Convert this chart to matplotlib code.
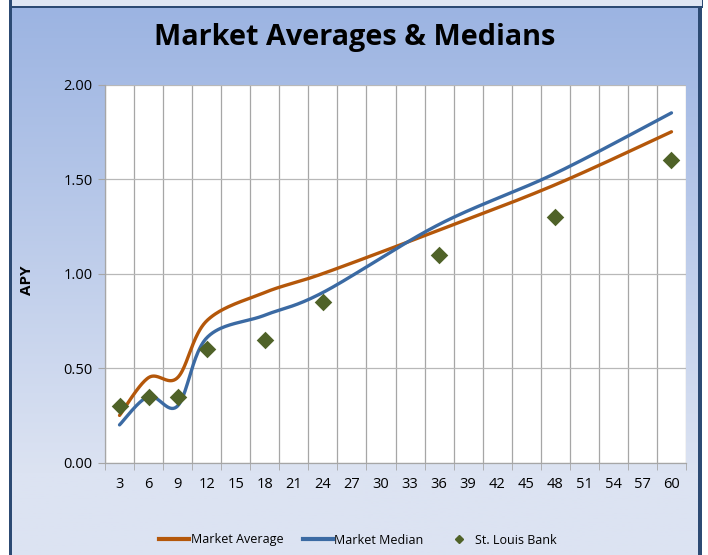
import numpy as np
import matplotlib
matplotlib.use("Agg")
import matplotlib.pyplot as plt
from matplotlib.patches import Rectangle
from matplotlib.lines import Line2D

# ---- data ----
categories = ["3", "6", "9", "12", "15", "18", "21", "24", "27", "30",
              "33", "36", "39", "42", "45", "48", "51", "54", "57", "60"]
data_months = ["3", "6", "9", "12", "18", "24", "36", "48", "60"]
market_average = [0.25, 0.45, 0.45, 0.75, 0.90, 1.00, 1.23, 1.47, 1.75]
market_median = [0.20, 0.35, 0.30, 0.66, 0.78, 0.90, 1.26, 1.53, 1.85]
st_louis_bank = [0.30, 0.35, 0.35, 0.60, 0.65, 0.85, 1.10, 1.30, 1.60]
y_ticks = [0.0, 0.5, 1.0, 1.5, 2.0]

W, H = 708, 555
fig = plt.figure(figsize=(W / 100, H / 100), dpi=100)

# ---- background (pixel coordinates) ----
bg = fig.add_axes([0, 0, 1, 1])
bg.set_xlim(0, W)
bg.set_ylim(H, 0)
bg.axis("off")
top_c = np.array([0x9c, 0xb4, 0xe2]) / 255
bot_c = np.array([0xdc, 0xe3, 0xf2]) / 255
t = np.linspace(0, 1, 256)
t = np.clip(t / 0.85, 0, 1)
grad = top_c[None, :] * (1 - t[:, None]) + bot_c[None, :] * t[:, None]
bg.imshow(grad[:, None, :], extent=[12, 698, H, 8], aspect="auto", zorder=0)
bg.add_patch(Rectangle((9, 0), 694, 6, facecolor="#dfe6f3", edgecolor="none", zorder=1))
bg.add_patch(Rectangle((9, 5.5), 694, 2.5, facecolor="#2c4a73", edgecolor="none", zorder=2))
bg.add_patch(Rectangle((701.5, 0), 1.5, 6, facecolor="#2c4a73", edgecolor="none", zorder=2))
bg.add_patch(Rectangle((9, 0), 3, H, facecolor="#2c4a73", edgecolor="none", zorder=2))
bg.add_patch(Rectangle((698, 6), 4, H, facecolor="#2c4a73", edgecolor="none", zorder=2))

fig.text(355 / W, 1 - 38 / H, "Market Averages & Medians", ha="center", va="center",
         fontsize=20.8, fontweight="bold", family="Open Sans", color="black")

# ---- plot ----
ax = fig.add_axes([105 / W, 1 - 462.7 / H, (686 - 105) / W, (462.7 - 84.5) / H])
ax.set_facecolor("white")
n = len(categories)
ax.set_xlim(-0.5, n - 0.5)
ax.set_ylim(0, 2.0)

xi = np.array([categories.index(m) for m in data_months], dtype=float)


def excel_smooth(x, y, steps=40):
    pts = np.column_stack([x, y])
    out = [pts[0]]
    for i in range(len(pts) - 1):
        p0 = pts[i - 1] if i > 0 else pts[i]
        p1 = pts[i]
        p2 = pts[i + 1]
        p3 = pts[i + 2] if i + 2 < len(pts) else pts[i + 1]
        c1 = p1 + (p2 - p0) / 6
        c2 = p2 - (p3 - p1) / 6
        s = np.linspace(0, 1, steps)[1:, None]
        seg = ((1 - s) ** 3) * p1 + 3 * ((1 - s) ** 2) * s * c1 + 3 * (1 - s) * s ** 2 * c2 + s ** 3 * p2
        out.extend(seg)
    out = np.array(out)
    return out[:, 0], out[:, 1]


for k in np.arange(-0.5, n, 1.0):
    ax.axvline(k, color="#a6a6a6", lw=0.9, zorder=1)
for v in y_ticks:
    ax.axhline(v, color="#b8b8b8", lw=0.9, zorder=1)

avg_color = "#b4570a"
med_color = "#3b6aa3"
bank_color = "#4f6228"

sx, sy = excel_smooth(xi, market_average)
ax.plot(sx, sy, color=avg_color, lw=2.4, solid_capstyle="round", zorder=3)
sx, sy = excel_smooth(xi, market_median)
ax.plot(sx, sy, color=med_color, lw=2.4, solid_capstyle="round", zorder=3)
ax.scatter(xi, st_louis_bank, marker="D", s=80, color=bank_color, zorder=4, linewidths=0)

for sp in ["top", "right"]:
    ax.spines[sp].set_visible(False)
for sp in ["left", "bottom"]:
    ax.spines[sp].set_color("#a6a6a6")
    ax.spines[sp].set_linewidth(0.9)

ax.set_xticks(np.arange(n))
ax.set_xticklabels(categories)
ax.set_xticks(np.arange(-0.5, n, 1.0), minor=True)
ax.tick_params(axis="x", which="major", length=0, pad=10, labelsize=10.5, labelcolor="black")
ax.tick_params(axis="x", which="minor", length=5, color="#a6a6a6", direction="out")
ax.set_yticks(y_ticks)
ax.set_yticklabels([f"{v:.2f}" for v in y_ticks])
ax.tick_params(axis="y", length=5, color="#a6a6a6", pad=4, labelsize=10.5, labelcolor="black")
for lab in ax.get_xticklabels() + ax.get_yticklabels():
    lab.set_family("Open Sans")

fig.text(27 / W, 1 - 280 / H, "APY", rotation=90, ha="center", va="center",
         fontsize=11, fontweight="bold", family="Open Sans")

handles = [Line2D([], [], color=avg_color, lw=3),
           Line2D([], [], color=med_color, lw=3),
           Line2D([], [], color=bank_color, marker="D", ls="none", markersize=4)]
fig.legend(handles, ["Market Average", "Market Median", "St. Louis Bank"],
           loc="center", bbox_to_anchor=(358 / W, 1 - 540 / H), ncol=3, frameon=False,
           prop={"family": "Open Sans", "size": 9}, handlelength=2.4, handletextpad=0.1,
           columnspacing=1.6)

fig.savefig("out.png", dpi=100)
